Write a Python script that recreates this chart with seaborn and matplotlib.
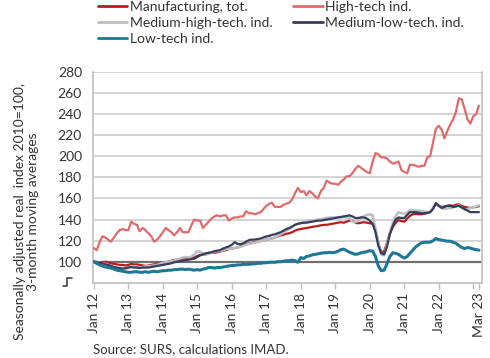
import matplotlib
matplotlib.use("Agg")
import matplotlib.pyplot as plt
from matplotlib.lines import Line2D
import seaborn as sns
import pandas as pd

# monthly, Jan 2012 - Mar 2023 (3-month moving averages, 2010=100)
months = pd.date_range("2012-01-01", "2023-03-01", freq="MS")

manufacturing = [
    100, 99.5, 99, 99.5, 100, 99.5, 98.5, 98, 97.5, 97, 97, 96.5,
    97, 98, 97.5, 97.5, 97, 96.5, 96, 96.5, 97, 97.5, 98, 98.5,
    99, 99.5, 100, 101, 101.5, 102, 102, 103, 103.5, 103.5, 104, 104,
    105.5, 106.5, 107, 107, 108, 108.5, 108.5, 109, 109.5, 110.5, 111, 112,
    112.5, 113, 113.5, 114.5, 115.5, 116.5, 117.5, 118, 118.5, 119, 119.5, 120,
    121, 121.5, 122, 123, 124, 125, 125.5, 126.5, 127, 128, 129.5, 130.5,
    131, 131.5, 132, 132.5, 133, 133.5, 134, 134.5, 135, 135, 135.5, 136,
    136.5, 137, 137.5, 137, 138, 139, 139, 137, 136.5, 137, 137.5, 137,
    136.5, 136, 131, 118, 109, 110, 118, 127, 133, 137, 139.5, 138.5,
    138, 141, 143.5, 145, 145.5, 145, 145, 145.5, 146, 147, 151, 155,
    153, 152, 152.5, 153, 153.5, 153, 154, 154.5, 153, 152, 151.5, 151, 151.5, 152, 152.5,
]
high_tech = [
    113, 111, 118, 124, 123, 121, 119, 123, 127, 130, 131, 130,
    130, 138, 136, 135, 129, 132, 130, 127, 124, 119, 121, 124,
    128, 132, 130, 128, 125, 128, 132, 128, 128, 128, 135, 140,
    139, 139, 132, 135, 138, 141, 143, 144, 143, 144, 144, 139,
    141, 142, 142, 143, 143, 148, 146, 146, 145, 146, 147, 150,
    153, 155, 156, 152, 152, 152, 154, 155, 156, 159, 165, 170,
    166, 167, 163, 167, 165, 162, 160, 167, 170, 177, 175, 174,
    174, 173, 176, 178, 181, 181, 184, 188, 191, 189, 187, 185,
    184, 195, 203, 202, 199, 199, 198, 195, 193, 194, 195, 187,
    185, 184, 192, 192, 191, 190, 191, 191, 199, 200, 213, 226,
    229, 225, 217, 224, 230, 235, 242, 255, 254, 245, 235, 231, 238, 240, 248,
]
medium_high_tech = [
    101, 100, 99, 98.5, 98, 97, 96, 95, 94, 93, 92.5, 93,
    94, 95, 95.5, 95, 94.5, 95, 95.5, 96, 96, 96.5, 97, 98,
    99, 99.5, 100, 100.5, 101, 102, 103, 104, 104.5, 104, 105, 107,
    110, 109.5, 108, 107, 107.5, 108.5, 109.5, 110, 110, 111, 112, 112,
    112.5, 113, 113.5, 114, 115, 116, 117, 117.5, 118, 119, 119.5, 120,
    121, 121.5, 122, 123, 124.5, 126, 127.5, 129.5, 131, 133, 135, 136,
    136.5, 137.5, 138, 139, 139, 139.5, 140, 140.5, 141, 141.5, 142, 142,
    142, 142.5, 142, 142.5, 142, 141.5, 138, 137.5, 139, 142, 143, 144.5,
    145, 144, 132, 118, 107, 106, 117, 128, 137.5, 143, 147, 146,
    145.5, 147, 149, 149, 148.5, 148.5, 148, 147.5, 147, 147, 151, 155.5,
    154, 151, 150, 150.5, 151, 151.5, 152.5, 153.5, 151.5, 149.5, 150, 151, 151.5, 152.5, 153.5,
]
medium_low_tech = [
    100, 99.5, 99, 98.5, 97.5, 97, 96, 95, 94.5, 94, 93.5, 94,
    94.5, 95, 94.5, 94.5, 94, 94.5, 94.5, 94.5, 95, 95.5, 96, 96.5,
    97, 97.5, 98, 98.5, 99.5, 100, 100.5, 101, 101.5, 102, 102.5, 103,
    104.5, 106, 107, 108, 108.5, 109, 110, 110.5, 111, 112.5, 113.5, 114.5,
    116, 118.5, 117, 116.5, 117.5, 119, 120.5, 121, 121, 121.5, 122, 123,
    124, 124.5, 125.5, 126, 127, 128, 129.5, 131, 132, 133.5, 135, 136,
    136.5, 137, 137, 137.5, 138, 138.5, 139, 139, 139.5, 140, 140.5, 141,
    141.5, 142, 142.5, 143, 143.5, 144, 143, 141.5, 141.5, 142, 142, 141,
    139, 136, 128, 115, 108, 107, 114, 126, 134, 140, 142, 141.5,
    141.5, 144.5, 147, 147, 147, 146.5, 146, 146, 146.5, 147, 150, 155.5,
    153, 151, 152, 153, 153, 152, 152.5, 153, 151.5, 150, 148.5, 147, 147, 147, 147,
]
low_tech = [
    100, 98.5, 97, 96, 95, 94.5, 94, 93, 92, 91.5, 91, 90.5,
    90, 90, 90.5, 90.5, 90, 90, 90.5, 90, 90.5, 91, 90.5, 91,
    91.5, 91.5, 92, 92, 92.5, 92.5, 93, 93, 92.5, 93, 92.5, 92,
    92.5, 92, 93, 93.5, 94.5, 94.5, 94, 94.5, 94.5, 95, 95.5, 96,
    96.5, 96.5, 97, 97, 97.5, 97.5, 97.5, 98, 98, 98.5, 98.5, 99,
    99, 99.5, 99.5, 99.5, 100, 100, 100.5, 101, 101, 101.5, 101, 99.5,
    104, 103, 105, 105.5, 106.5, 107, 107.5, 108, 108.5, 108.5, 109, 108.5,
    109, 110, 111.5, 112, 110.5, 109, 108, 107, 107.5, 108.5, 109, 109.5,
    110.5, 110, 105, 96, 91.5, 92, 98, 105, 108.5, 108, 107, 105,
    103.5, 105, 108, 111, 114, 116, 118, 118.5, 118.5, 118.5, 120, 122,
    121, 120.5, 120, 119.5, 119.5, 118.5, 117.5, 115.5, 113.5, 112.5, 113.5, 113, 112, 111.5, 111,
]

series_names = ["Manufacturing, tot.", "High-tech ind.", "Medium-high-tech. ind.",
                "Medium-low-tech. ind.", "Low-tech ind."]
series_values = [manufacturing, high_tech, medium_high_tech, medium_low_tech, low_tech]
line_colors = ["#B81D1D", "#E06A6A", "#BDBEC2", "#343D5C", "#1F7893"]
line_widths = [1.6, 1.6, 1.8, 1.6, 2.2]

tick_dates = list(pd.date_range("2012-01-01", "2023-01-01", freq="YS")) + [pd.Timestamp("2023-03-01")]
tick_labels = [f"Jan {y % 100}" for y in range(2012, 2023)] + ["", "Mar 23"]

df = pd.DataFrame({"date": list(months) * len(series_names),
                   "value": sum(series_values, []),
                   "series": [n for n in series_names for _ in months]})

sns.set_style("white")
plt.rcParams["font.family"] = ["Lato", "DejaVu Sans"]
text_col = "#333333"

fig = plt.figure(figsize=(4.9, 3.58), dpi=100)
ax = fig.add_axes([0.19, 0.21, 0.794, 0.589])

ax.axhline(100, color="#6F6F6F", lw=1.6, zorder=1)
sns.lineplot(data=df, x="date", y="value", hue="series", hue_order=series_names,
             palette=dict(zip(series_names, line_colors)), ax=ax, legend=False, zorder=3)
for line, w in zip(ax.get_lines()[1:], line_widths):
    line.set_linewidth(w)

ax.set_ylim(80, 280)
ax.set_yticks(range(100, 281, 20))
ax.set_xlim(pd.Timestamp("2011-12-25"), pd.Timestamp("2023-04-05"))
ax.set_xticks(tick_dates)
ax.set_xticklabels(tick_labels, rotation=90, fontsize=10, color=text_col)
ax.tick_params(axis="y", labelsize=10, labelcolor=text_col, length=0, pad=8)
ax.tick_params(axis="x", length=4, width=1, color="#BFBFBF", pad=3, bottom=True)
ax.grid(axis="y", color="#CCCCCC", lw=1.2)
ax.set_axisbelow(True)
for side in ["left", "right", "bottom"]:
    ax.spines[side].set_color("#BFBFBF")
    ax.spines[side].set_linewidth(1.2)
ax.spines["top"].set_visible(False)
ax.set_xlabel("")
ax.set_ylabel("")

# axis-break mark next to the bottom of the value axis
fig.add_artist(Line2D([63 / 490, 67 / 490, 67 / 490, 72 / 490],
                      [1 - 286 / 358, 1 - 286 / 358, 1 - 278 / 358, 1 - 278 / 358],
                      color="#333333", lw=1.1))

fig.text(0.054, 0.41, "Seasonally adjusted real  index 2010=100,\n3-month moving averages",
         rotation=90, ha="center", va="center", fontsize=10, color=text_col, linespacing=1.1)

handles = [Line2D([], [], color=c, lw=2) for c in line_colors]
order = [0, 2, 4, 1, 3]
fig.legend([handles[i] for i in order], [series_names[i] for i in order],
           loc="upper left", bbox_to_anchor=(98 / 490, 1 - 1 / 358), ncol=2,
           frameon=False, fontsize=10, handlelength=2.1, handletextpad=0.2,
           columnspacing=1.5, labelspacing=0.3, borderpad=0, borderaxespad=0,
           labelcolor=text_col)

fig.text(93 / 490, 1 - 349 / 358, "Source: SURS, calculations IMAD.", fontsize=9.5,
         color=text_col, va="center", ha="left")

fig.savefig("out.png", dpi=100)
